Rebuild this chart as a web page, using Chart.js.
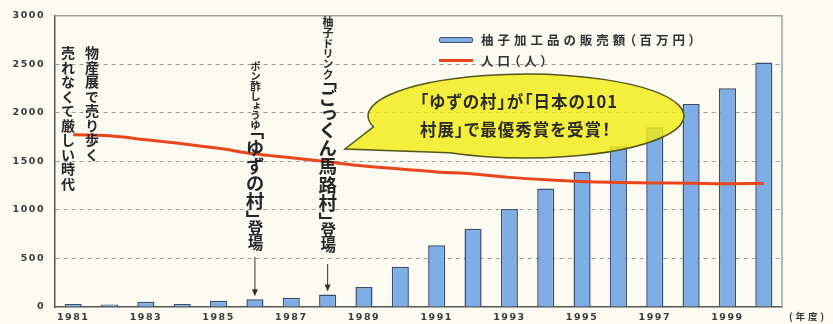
<!DOCTYPE html>
<html lang="ja">
<head>
<meta charset="UTF-8">
<title>柚子加工品の販売額と人口</title>
<script src="https://cdn.jsdelivr.net/npm/chart.js"></script>
<style>
  body { margin: 0; background: #fbfbf2; font-family: "Noto Sans CJK JP", sans-serif; }
  #wrap { position: relative; width: 833px; height: 324px; overflow: hidden; }
  canvas { position: absolute; left: 0; top: 0; }
  .note {
    position: absolute;
    writing-mode: vertical-rl;
    font-weight: bold;
    color: #262626;
    white-space: nowrap;
  }
  #noteA { font-size: 14px; line-height: 24px; letter-spacing: 0.5px; }
  .col { position: absolute; display: flex; flex-direction: column; align-items: center; }
  .col > div {
    writing-mode: vertical-rl;
    font-weight: bold;
    color: #262626;
    white-space: nowrap;
    line-height: 1;
    font-feature-settings: "vpal";
  }
  .sm { font-size: 10.5px; }
  .sm2 { font-size: 11px; }
  .big { font-size: 18.5px; }
  .mid { font-size: 15.5px; }
  .swatch-bar { position: absolute; left: 439px; top: 37px; width: 32px; height: 4px; background: #7eaee6; border: 1px solid #3b4d6e; border-radius: 2px; }
  .swatch-line { position: absolute; left: 439px; top: 59px; width: 34px; height: 3px; background: #e9461b; }
  .legend-text { position: absolute; left: 481px; font-size: 12.5px; font-weight: bold; color: #333; letter-spacing: 4px; font-feature-settings: "palt"; white-space: nowrap; line-height: 14px; }
  #bubbleText { position: absolute; left: 420px; top: 87px; font-size: 16.5px; font-weight: bold; color: #2a2a2a; line-height: 28px; letter-spacing: 1px; font-feature-settings: "palt"; white-space: nowrap; }
  #unit { position: absolute; left: 789px; top: 310px; font-size: 9.5px; line-height: 12px; font-weight: bold; color: #333; letter-spacing: 3px; }
</style>
</head>
<body>
<div id="wrap">
  <canvas id="chart" width="833" height="324"></canvas>

  <div class="swatch-bar"></div>
  <div class="legend-text" style="top:33px">柚子加工品の販売額（百万円）</div>
  <div class="swatch-line"></div>
  <div class="legend-text" style="top:54px">人口（人）</div>

  <div id="noteA" class="note">物産展で売り歩く<br>売れなくて厳しい時代</div>
  <div id="noteB" class="col"><div class="sm">ポン酢しょうゆ</div><div class="big">「ゆずの村」</div><div class="mid">登場</div></div>
  <div id="noteC" class="col"><div class="sm2">柚子ドリンク</div><div class="big">「ごっくん馬路村」</div><div class="mid">登場</div></div>

  <div id="bubbleText">「ゆずの村」が「日本の101<br>村展」で最優秀賞を受賞！</div>
  <div id="unit">(年度)</div>
</div>

<script>
  // data
  const years = ['1981', '1982', '1983', '1984', '1985', '1986', '1987', '1988', '1989', '1990',
                 '1991', '1992', '1993', '1994', '1995', '1996', '1997', '1998', '1999', '2000'];
  const xTickLabels = ['1981', '1983', '1985', '1987', '1989', '1991', '1993', '1995', '1997', '1999'];
  const sales = [30, 25, 55, 30, 65, 80, 95, 130, 205, 415, 636, 805, 1008, 1221, 1390, 1655, 1851, 2091, 2254, 2518];
  const population = [1773, 1763, 1723, 1682, 1634, 1577, 1538, 1495, 1452, 1421,
                      1391, 1370, 1335, 1310, 1292, 1283, 1278, 1274, 1270, 1272];
  const yMax = 3000;
  const yStep = 500;

  // events with an arrow pointing at the year's bar
  const arrowYears = ['1986', '1988'];

  const tickFont = { family: 'DejaVu Sans', size: 9.5, weight: 'bold' };

  const spacingPlugin = {
    id: 'spacing',
    beforeLayout(chart) { chart.ctx.letterSpacing = '1.5px'; },
    beforeDraw(chart) { chart.ctx.letterSpacing = '1.5px'; }
  };

  const framePlugin = {
    id: 'frame',
    beforeDatasetsDraw(chart) {
      const { ctx, chartArea: a } = chart;
      ctx.save();
      ctx.strokeStyle = '#a0a0a0';
      ctx.lineWidth = 1.5;
      ctx.beginPath();
      ctx.moveTo(a.left, a.top);
      ctx.lineTo(a.right, a.top);
      ctx.lineTo(a.right, a.bottom);
      ctx.stroke();
      ctx.restore();
    }
  };

  const calloutPlugin = {
    id: 'callout',
    afterDatasetsDraw(chart) {
      const { ctx } = chart;
      const x = chart.scales.x, y = chart.scales.y;

      // arrows down to the bars
      ctx.save();
      ctx.strokeStyle = '#333';
      ctx.fillStyle = '#333';
      ctx.lineWidth = 1;
      arrowYears.forEach((yr, n) => {
        const i = years.indexOf(yr);
        const px = x.getPixelForValue(i);
        const tip = y.getPixelForValue(sales[i]) - 3;
        const start = n === 0 ? 257 : 264;
        ctx.beginPath();
        ctx.moveTo(px, start);
        ctx.lineTo(px, tip - 6);
        ctx.stroke();
        ctx.beginPath();
        ctx.moveTo(px - 3, tip - 7);
        ctx.lineTo(px + 3, tip - 7);
        ctx.lineTo(px, tip);
        ctx.closePath();
        ctx.fill();
      });
      ctx.restore();

      // speech bubble
      const cx = 526, cy = 116, rx = 158, ry = 42;
      const deg = Math.PI / 180;
      ctx.save();
      ctx.beginPath();
      ctx.moveTo(345, 149);
      ctx.ellipse(cx, cy, rx, ry, 0, 165 * deg, 119 * deg, false);
      ctx.closePath();
      ctx.fillStyle = 'rgba(240, 236, 20, 0.82)';
      ctx.fill();
      ctx.strokeStyle = '#55551c';
      ctx.lineWidth = 1.5;
      ctx.stroke();
      ctx.restore();
    }
  };

  const chart = new Chart(document.getElementById('chart'), {
    type: 'bar',
    data: {
      labels: years,
      datasets: [
        {
          type: 'line',
          label: '人口（人）',
          data: population,
          borderColor: '#e9461b',
          borderWidth: 3,
          pointRadius: 0,
          tension: 0.4,
          fill: false
        },
        {
          type: 'bar',
          label: '柚子加工品の販売額（百万円）',
          data: sales,
          backgroundColor: '#7eaee6',
          borderColor: '#3b4d6e',
          borderWidth: 1.5,
          barPercentage: 0.47,
          categoryPercentage: 1
        }
      ]
    },
    options: {
      responsive: false,
      animation: false,
      layout: { padding: { top: 6, right: 51, bottom: 0, left: 0 } },
      plugins: { legend: { display: false }, tooltip: { enabled: false } },
      scales: {
        x: {
          grid: { display: false, drawTicks: false },
          border: { color: '#555', width: 1.5 },
          ticks: {
            autoSkip: false,
            maxRotation: 0,
            padding: 5,
            color: '#3a3a3a',
            font: tickFont,
            callback: (v, i) => xTickLabels.includes(years[i]) ? years[i] : ''
          },
          afterFit(s) { s.height = 17; }
        },
        y: {
          min: 0,
          max: yMax,
          ticks: { stepSize: yStep, padding: 10, color: '#3a3a3a', font: tickFont, callback: v => String(v) },
          grid: {
            drawTicks: false,
            lineWidth: 1,
            color: c => (c.tick && (c.tick.value === 0 || c.tick.value === yMax)) ? 'rgba(0,0,0,0)' : '#9a9a9a'
          },
          border: { color: '#555', width: 1.5, dash: [4, 4] },
          afterFit(s) { s.width = 55; }
        }
      }
    },
    plugins: [spacingPlugin, framePlugin, calloutPlugin]
  });

  // place vertical notes over their years
  function placeNote(id, idx, top) {
    const el = document.getElementById(id);
    const px = chart.scales.x.getPixelForValue(idx);
    el.style.left = (px - el.offsetWidth / 2) + 'px';
    el.style.top = top + 'px';
  }
  const noteA = document.getElementById('noteA');
  noteA.style.left = (chart.chartArea.left + 1) + 'px';
  noteA.style.top = '46px';
  placeNote('noteB', years.indexOf('1986'), 61);
  placeNote('noteC', years.indexOf('1988'), 16);
</script>
</body>
</html>
